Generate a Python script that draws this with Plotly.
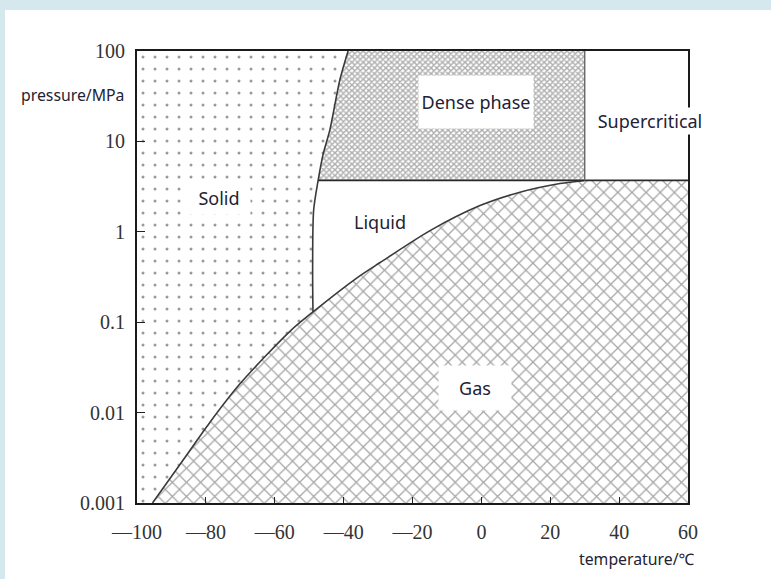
import math
import plotly.graph_objects as go

# ---- data ----
# sublimation + vaporization boundary (temperature °C, pressure MPa)
curve_T = [-95.5, -86.6, -78.8, -70.1, -55.6, -48.9, -36.1, -29.4, -14.9, -0.4, 11.2, 22.8, 30.0]
curve_P = [0.001, 0.00299, 0.00783, 0.0208, 0.0793, 0.130, 0.310, 0.457, 1.03, 1.95, 2.74, 3.42, 3.7]
# melting boundary, from triple point upward
melt_T = [-48.9, -49.0, -48.7, -47.4, -46.0, -44.0, -41.1, -38.7]
melt_P = [0.130, 0.38, 1.74, 3.7, 7.1, 13.4, 47.8, 100]
crit_T = 30.0
crit_P = 3.7
T_min, T_max = -100, 60
P_min, P_max = 0.001, 100

x_ticks = [-100, -80, -60, -40, -20, 0, 20, 40, 60]
x_tick_text = ["\u2014100", "\u201480", "\u201460", "\u201440", "\u201420", "0", "20", "40", "60"]
y_ticks = [0.001, 0.01, 0.1, 1, 10, 100]
y_tick_text = ["0.001", "0.01", "0.1", "1", "10", "100"]

labels = ["Solid", "Dense phase", "Liquid", "Supercritical", "Gas"]
label_T = [-76.2, -1.6, -29.4, 49.0, -1.9]
label_P = [2.37, 27.3, 1.28, 16.8, 0.0187]

fig = go.Figure()

# Solid region (dotted)
solid_x = [T_min, T_min] + melt_T[::-1] + curve_T[:5][::-1]
solid_y = [P_min, P_max] + melt_P[::-1] + curve_P[:5][::-1]
fig.add_trace(go.Scatter(x=solid_x, y=solid_y, fill="toself", mode="none",
                         fillcolor="white",
                         fillpattern=dict(shape=".", size=12, solidity=0.05,
                                          fgcolor="#333333", bgcolor="white"),
                         hoverinfo="skip", showlegend=False))

# Dense phase region (fine hatch)
idx = melt_P.index(crit_P)
dense_x = melt_T[idx:] + [crit_T, crit_T]
dense_y = melt_P[idx:] + [P_max, crit_P]
fig.add_trace(go.Scatter(x=dense_x, y=dense_y, fill="toself", mode="none",
                         fillcolor="white",
                         fillpattern=dict(shape="x", size=4, solidity=0.6,
                                          fgcolor="#5e5e5e", bgcolor="white"),
                         hoverinfo="skip", showlegend=False))

# Gas region (cross-hatch)
gas_x = curve_T + [T_max, T_max]
gas_y = curve_P + [crit_P, P_min]
fig.add_trace(go.Scatter(x=gas_x, y=gas_y, fill="toself", mode="none",
                         fillcolor="white",
                         fillpattern=dict(shape="x", size=10, solidity=0.24,
                                          fgcolor="#4e4e4e", bgcolor="white"),
                         hoverinfo="skip", showlegend=False))

# Boundary lines
line_style = dict(color="#3a3a3a", width=1.6, shape="spline", smoothing=0.8)
fig.add_trace(go.Scatter(x=curve_T, y=curve_P, mode="lines", line=line_style,
                         hoverinfo="skip", showlegend=False))
fig.add_trace(go.Scatter(x=melt_T, y=melt_P, mode="lines", line=line_style,
                         hoverinfo="skip", showlegend=False))
fig.add_trace(go.Scatter(x=[melt_T[idx], T_max], y=[crit_P, crit_P], mode="lines",
                         line=dict(color="#2a2a2a", width=1.8),
                         hoverinfo="skip", showlegend=False))
fig.add_trace(go.Scatter(x=[crit_T, crit_T], y=[crit_P, P_max], mode="lines",
                         line=dict(color="#6a6a6a", width=1.5),
                         hoverinfo="skip", showlegend=False))

# white page panel over the light-blue border
W, H = 771, 579
L, R, T, B = 137, 688, 51, 503
pw, ph = R - L, B - T
fig.add_shape(type="rect", xref="paper", yref="paper", layer="below",
              x0=(5 - L) / pw, x1=(W + 5 - L) / pw,
              y0=(B - (H + 5)) / ph, y1=(B - 10) / ph,
              fillcolor="white", line=dict(width=0))

box_sizes = {"Solid": (60, 30), "Dense phase": (112, 50), "Liquid": (None, None),
             "Supercritical": (114, 24), "Gas": (70, 42)}
for name, t, p in zip(labels, label_T, label_P):
    w, h = box_sizes[name]
    kw = {}
    if w:
        kw = dict(width=w, height=h, bgcolor="white")
    fig.add_annotation(x=t, y=math.log10(p), xref="x", yref="y", text=name,
                       showarrow=False, xanchor="center", yanchor="middle",
                       font=dict(family="Noto Sans", size=18, color="#222233"), **kw)

fig.add_annotation(x=(72 - L) / pw, y=(B - 95) / ph, xref="paper", yref="paper",
                   text="pressure/MPa", showarrow=False, xanchor="center", yanchor="middle",
                   font=dict(family="Noto Sans", size=15.8, color="#222233"))
fig.add_annotation(x=(637 - L) / pw, y=(B - 559) / ph, xref="paper", yref="paper",
                   text="temperature/\u2103", showarrow=False, xanchor="center", yanchor="middle",
                   font=dict(family="Noto Sans", size=15.8, color="#222233"))

fig.update_xaxes(range=[T_min, T_max], tickmode="array", tickvals=x_ticks, ticktext=x_tick_text,
                 ticks="inside", ticklen=6, tickwidth=1.2, tickcolor="#222",
                 showgrid=False, zeroline=False, showline=True, mirror=True,
                 linecolor="#1a1a1a", linewidth=2.2, ticklabelstandoff=10,
                 tickfont=dict(family="Liberation Serif", size=20, color="#333"))
fig.update_yaxes(type="log", range=[math.log10(P_min), math.log10(P_max)], tickmode="array",
                 tickvals=y_ticks, ticktext=y_tick_text,
                 ticks="inside", ticklen=8, tickwidth=1.2, tickcolor="#222",
                 showgrid=False, zeroline=False, showline=True, mirror=True,
                 linecolor="#1a1a1a", linewidth=2.2, ticklabelstandoff=6,
                 tickfont=dict(family="Liberation Serif", size=20, color="#333"))

fig.update_layout(width=W, height=H, margin=dict(l=L, r=W - R, t=T, b=H - B),
                  paper_bgcolor="#d4e8ee", plot_bgcolor="white", showlegend=False)

fig.write_html("out.html", config={"displayModeBar": False},
               post_script="document.body.style.margin='0';document.body.style.overflow='hidden';")
